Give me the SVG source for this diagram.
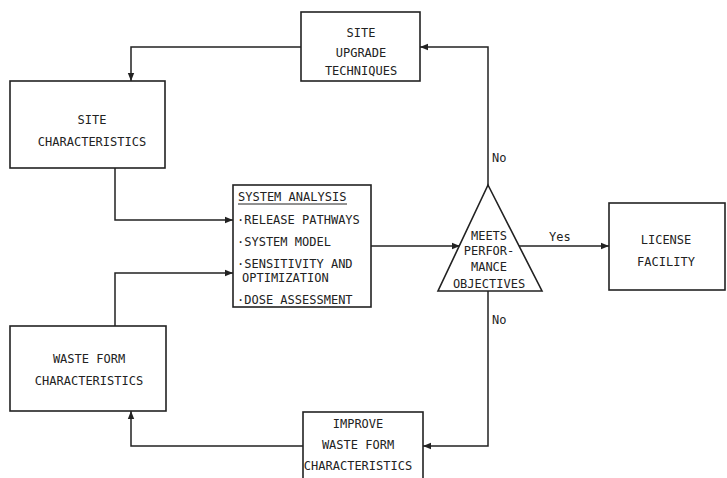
<svg xmlns="http://www.w3.org/2000/svg" width="727" height="478" viewBox="0 0 727 478">
<defs>
<marker id="arr" viewBox="0 0 10 10" refX="10" refY="5" markerWidth="8" markerHeight="8" markerUnits="userSpaceOnUse" orient="auto">
<path d="M0,1 L10,5 L0,9 Z" fill="#222"/>
</marker>
</defs>
<style>
.box{fill:#fff;stroke:#222;stroke-width:1.6}
.ln{fill:none;stroke:#222;stroke-width:1.5}
text{font-family:"DejaVu Sans Mono","Liberation Mono",monospace;font-size:12px;fill:#222}
.c{text-anchor:middle}
</style>
<rect width="727" height="478" fill="#fff"/>
<g id="connectors">
<path class="ln" d="M301,47 H131 V81" marker-end="url(#arr)"/>
<path class="ln" d="M115,168 V220 H233" marker-end="url(#arr)"/>
<path class="ln" d="M115,326 V273 H233" marker-end="url(#arr)"/>
<path class="ln" d="M371,246 H460" marker-end="url(#arr)"/>
<path class="ln" d="M519,246 H609" marker-end="url(#arr)"/>
<path class="ln" d="M488,185 V47 H420" marker-end="url(#arr)"/>
<path class="ln" d="M488,291 V446 H423" marker-end="url(#arr)"/>
<path class="ln" d="M303,446 H131 V411" marker-end="url(#arr)"/>
<text x="492" y="162">No</text>
<text x="492" y="324">No</text>
<text x="549" y="241">Yes</text>
</g>
<g id="site-upgrade">
<rect class="box" x="301" y="12" width="119" height="69"/>
<text class="c" x="361" y="37">SITE</text>
<text class="c" x="361" y="57">UPGRADE</text>
<text class="c" x="361" y="75">TECHNIQUES</text>
</g>
<g id="site-characteristics">
<rect class="box" x="10" y="81" width="155" height="87"/>
<text class="c" x="92" y="124">SITE</text>
<text class="c" x="92" y="146">CHARACTERISTICS</text>
</g>
<g id="system-analysis">
<rect class="box" x="233" y="185" width="138" height="122"/>
<text x="238" y="201">SYSTEM ANALYSIS</text>
<line x1="238" y1="204" x2="347" y2="204" stroke="#222" stroke-width="1"/>
<text x="237" y="224">·RELEASE PATHWAYS</text>
<text x="237" y="246">·SYSTEM MODEL</text>
<text x="237" y="268">·SENSITIVITY AND</text>
<text x="242" y="282">OPTIMIZATION</text>
<text x="237" y="304">·DOSE ASSESSMENT</text>
</g>
<g id="decision">
<polygon class="box" points="488,185 542,291 438,291"/>
<text class="c" x="489" y="240">MEETS</text>
<text class="c" x="489" y="255">PERFOR-</text>
<text class="c" x="489" y="271">MANCE</text>
<text class="c" x="489" y="288">OBJECTIVES</text>
</g>
<g id="license-facility">
<rect class="box" x="609" y="203" width="116" height="87"/>
<text class="c" x="666" y="244">LICENSE</text>
<text class="c" x="666" y="266">FACILITY</text>
</g>
<g id="waste-form">
<rect class="box" x="10" y="326" width="156" height="85"/>
<text class="c" x="89" y="363">WASTE FORM</text>
<text class="c" x="89" y="385">CHARACTERISTICS</text>
</g>
<g id="improve-waste-form">
<rect class="box" x="303" y="412" width="120" height="70"/>
<text class="c" x="358" y="428">IMPROVE</text>
<text class="c" x="358" y="449">WASTE FORM</text>
<text class="c" x="358" y="470">CHARACTERISTICS</text>
</g>
</svg>
